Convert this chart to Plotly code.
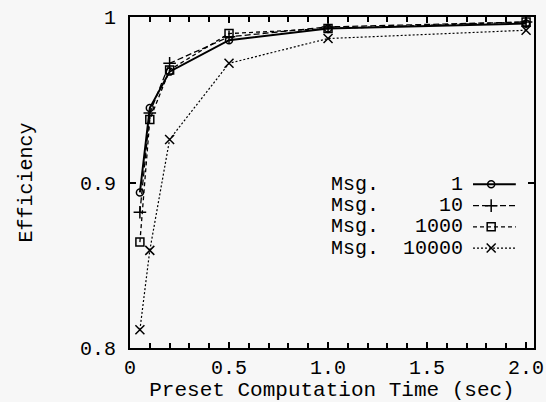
import plotly.graph_objects as go

# Data
x_time = [0.05, 0.1, 0.2, 0.5, 1.0, 2.0]
msg1 = [0.894, 0.945, 0.967, 0.986, 0.993, 0.996]
msg10 = [0.882, 0.942, 0.972, 0.988, 0.994, 0.997]
msg1000 = [0.864, 0.938, 0.968, 0.990, 0.993, 0.997]
msg10000 = [0.811, 0.859, 0.926, 0.972, 0.987, 0.992]
series_labels = ["1", "10", "1000", "10000"]
x_tickvals = [0, 0.5, 1.0, 1.5, 2.0]
x_ticktext = ["0", "0.5", "1.0", "1.5", "2.0"]
y_tickvals = [0.8, 0.9, 1.0]
y_ticktext = ["0.8", "0.9", "1"]

FONT = "Liberation Mono"
BG = "#f7f7f7"
NB = "\u00a0"

styles = [
    dict(dash="solid", width=2, symbol="circle-open", size=7),
    dict(dash="6px,3px", width=1.3, symbol="cross-thin-open", size=9),
    dict(dash="4px,3px", width=1.3, symbol="square-open", size=8),
    dict(dash="2px,2px", width=1.2, symbol="x-thin-open", size=9),
]
series = [msg1, msg10, msg1000, msg10000]

fig = go.Figure()
for ys, st in zip(series, styles):
    fig.add_trace(go.Scatter(
        x=x_time, y=ys, mode="lines+markers",
        line=dict(color="black", width=st["width"], dash=st["dash"]),
        marker=dict(symbol=st["symbol"], size=st["size"], color="black",
                    line=dict(color="black", width=1.5)),
        showlegend=False, xaxis="x", yaxis="y"))

# custom legend (text left, sample right)
row_y = [0.495, 0.430, 0.366, 0.302]
for lab, st, ry in zip(series_labels, styles, row_y):
    txt = "Msg." + NB * (11 - 4 - len(lab)) + lab
    fig.add_annotation(x=(465 - 130) / 404, y=ry, xref="paper", yref="paper",
                       text=txt, showarrow=False, xanchor="right", yanchor="middle",
                       font=dict(family=FONT, size=20, color="black"))
    fig.add_trace(go.Scatter(
        x=[0.849, 0.894, 0.955], y=[ry, ry, ry], mode="lines",
        line=dict(color="black", width=st["width"], dash=st["dash"]),
        showlegend=False, xaxis="x2", yaxis="y2", hoverinfo="skip"))
    fig.add_trace(go.Scatter(
        x=[0.894], y=[ry], mode="markers",
        marker=dict(symbol=st["symbol"], size=st["size"], color="black",
                    line=dict(color="black", width=1.5)),
        showlegend=False, xaxis="x2", yaxis="y2", hoverinfo="skip"))

axis_common = dict(showline=True, linecolor="black", linewidth=2, mirror="ticks",
                   ticks="inside", ticklen=6, tickwidth=1.5, tickcolor="black",
                   showgrid=False, zeroline=False, automargin=False,
                   tickfont=dict(family=FONT, size=20, color="black"))

fig.update_layout(
    width=546, height=402,
    margin=dict(l=130, r=12, t=17, b=54, autoexpand=False),
    paper_bgcolor=BG, plot_bgcolor=BG,
    xaxis=dict(range=[0, 2.04], tickvals=x_tickvals, ticktext=x_ticktext,
               minor=dict(dtick=0.1, ticks="inside", ticklen=5, tickwidth=1.5, tickcolor="black"),
               title=dict(text="Preset Computation Time (sec)", standoff=2,
                          font=dict(family=FONT, size=21, color="black")),
               **axis_common),
    yaxis=dict(range=[0.8, 1.0], tickvals=y_tickvals, ticktext=y_ticktext,
               ticklabelstandoff=8,
               title=dict(text="Efficiency", standoff=42,
                          font=dict(family=FONT, size=20, color="black")),
               **axis_common),
    xaxis2=dict(range=[0, 1], overlaying="x", visible=False, domain=[0, 1]),
    yaxis2=dict(range=[0, 1], overlaying="y", visible=False, domain=[0, 1]),
)

fig.write_html("out.html")
